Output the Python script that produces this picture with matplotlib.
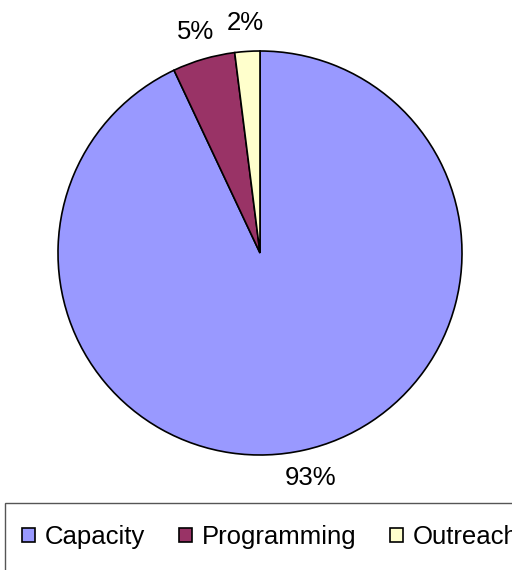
import matplotlib.pyplot as plt
from matplotlib.patches import Rectangle

labels = ["Capacity", "Programming", "Outreach"]
shares = [93, 5, 2]
colors = ["#9999FF", "#993366", "#FFFFCC"]

plt.rcParams['font.family'] = ['Liberation Sans', 'DejaVu Sans']

fig = plt.figure(figsize=(5.12, 5.7), dpi=100)
W, H = 512, 570
cx, cy, r = 260, 253, 202
ax = fig.add_axes([(cx - r) / W, (H - cy - r) / H, 2 * r / W, 2 * r / H])

wedges, texts, autotexts = ax.pie(
    shares, colors=colors, startangle=90, counterclock=False,
    autopct="%d%%", pctdistance=1.14,
    wedgeprops=dict(edgecolor="black", linewidth=1.2),
    textprops=dict(fontsize=18.5, color="black"))
ax.set_xlim(-1, 1)
ax.set_ylim(-1, 1)
ax.set_aspect("equal")
for t in autotexts:
    t.set_clip_on(False)

# legend box, runs off the right and bottom edges
fig.patches.append(Rectangle((5 / W, -0.05), 1.1, (H - 503) / H + 0.05,
                             transform=fig.transFigure, facecolor="white",
                             edgecolor="#555555", linewidth=1.0, zorder=0))

fig.legend(wedges, labels, loc="center left", ncol=3,
           bbox_to_anchor=(22 / W, (H - 537) / H), frameon=False,
           fontsize=18.5, handlelength=0.5, handleheight=0.5,
           handletextpad=0.4, columnspacing=1.3, borderaxespad=0,
           borderpad=0)

fig.savefig("out.png", dpi=100)
